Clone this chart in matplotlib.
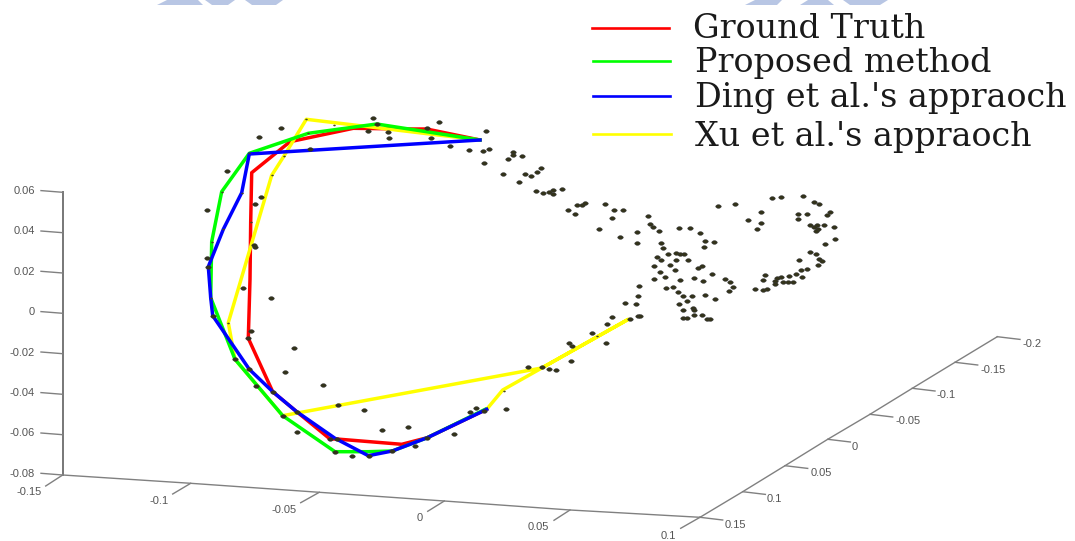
# plot.py - point cloud with fitted curves, redrawn from a flat 3D view.

import matplotlib
matplotlib.use("Agg")
import matplotlib.pyplot as plt
from matplotlib.markers import MarkerStyle
from matplotlib.transforms import Affine2D

# scattered points
points_x = [
    373, 438.7, 486, 259.3, 281, 376.7, 367.7, 387.7, 389.3, 426.7, 431.3, 449.7, 468.7, 483.3, 489, 483.7,
    310, 227.3, 261, 255, 207.3, 207.3, 208.3, 255, 254,
    242.7, 271, 212.7, 250.7, 248.3, 294, 235, 249.3, 285, 256, 323, 272.7, 337.7, 364, 282.7, 296.7, 296.7,
    382.3, 408, 330, 336.7, 454.3, 427.3, 470, 476, 484, 506.3, 415, 392.3, 335.3, 352, 368.7,
    528.3, 541.7, 549.3, 556.3, 571, 569.3, 572, 591.7, 606.3, 607.3, 612, 630, 638.3,
    513.3, 513.3, 521.7, 508, 503.3, 525.3, 531, 537, 540.7, 519, 536.3, 542.7, 549.3, 552.7, 552.7, 562,
    568, 575.3, 577.3, 581.7, 585, 604.7, 613.7, 622.7, 612, 599, 620, 636.7, 636.7, 648.3, 650, 653.3, 659.3,
    679.3, 690.3, 700, 705, 714, 704, 661, 663, 668.3, 675.7, 680, 684.3, 656.7, 661, 675.7, 687.7, 653.7,
    670, 675.3, 698.3, 701.7, 660, 712, 665, 654.3, 680, 693.7, 702.7, 725, 730, 639.3, 665.7, 672.7, 677.7,
    733.3, 729, 638.3, 682.7, 686.7, 692, 705, 715, 624.7, 636.3, 678.7, 692.7, 694, 682.7, 640.3,
    682.7, 686.7, 694, 702, 706.7, 710,
    718.3, 735, 760.7, 747.7, 760.7, 756.7, 772.3, 781.3, 803, 814, 819, 797.7, 807, 797.7, 830, 826.7,
    810.3, 816.7, 824.3, 834.3, 814.3, 817.7, 815.7, 835, 825, 809.7, 816, 799.3, 819.3, 821.7, 818.3,
    806.7, 801, 796.3, 802.3, 788.7, 781.3, 777.3, 765, 763.3, 775.3, 775.3, 783.3, 792.7, 788, 755, 763.3, 767.3,
]
points_y = [
    118.3, 121.7, 131, 137.3, 128.3, 124, 130.7, 132.3, 137.7, 127.7, 138.3, 145.7, 149.7, 151, 149, 163,
    148.7, 171.3, 196.7, 204.3, 209.7, 258, 266.7, 246.7, 245,
    287.7, 298, 315.7, 331.3, 338.3, 348.3, 359.3, 369.3, 372, 386.3, 385.3, 392.3, 405.3, 410, 415.7, 411.7, 432,
    429.7, 427, 439, 439, 433.7, 437.7, 412.3, 408, 411.3, 408.7, 446.3, 450.7, 451.7, 455.7, 455.7,
    367.3, 366.7, 369, 370.3, 360.7, 343.3, 345.7, 333.3, 343.3, 324, 317.3, 319.3, 315.7,
    151.7, 155, 155.7, 159.3, 173.7, 174.3, 176.3, 172.3, 168, 182, 191, 193, 191.7, 189.7, 193.7, 189,
    210, 213.7, 205, 205.3, 203, 204, 210, 210, 217.7, 229, 237.3, 231.7, 243, 215.7, 224, 227, 231.3,
    228.3, 228.3, 233.3, 241.3, 242.3, 247, 243, 247.7, 254.3, 253, 254.3, 253.7, 256.7, 260, 260, 260, 265.7,
    265.3, 270, 268, 266.3, 272, 274, 277.3, 279.3, 280, 278.3, 281, 279, 282.3, 286, 288.3, 287, 291.7,
    287, 290.7, 295.7, 296.3, 300.7, 296.3, 295.3, 298.7, 302.7, 304, 304, 307.7, 310, 310.3, 315.7,
    317.7, 317.7, 315.3, 315, 319, 319,
    206, 204, 212.3, 219.7, 223, 229, 197.7, 197, 196.3, 202, 204, 214, 214, 219, 212.3, 215,
    224.7, 224.7, 225, 227.3, 227.3, 229, 231, 238.7, 244.3, 251.7, 254.3, 259.7, 259.3, 261.3, 265,
    269, 270.3, 273.7, 277.3, 275.7, 276.7, 278, 275.3, 279.7, 280.7, 283.7, 281.7, 282.3, 282.3, 289, 290, 289,
]

# faint little dots at the curve vertices
vertex_x = [306.3, 334.3, 284, 271.7, 308.3, 249.3, 221.7, 211.7, 241.7, 223.3, 250.7, 210.7, 228.3, 504, 596.7]
vertex_y = [119.3, 125.3, 156, 175.3, 133.3, 153.3, 191.7, 241.7, 192.7, 229.3, 221.7, 297.7, 322.7, 390.5, 336]

# fitted curves
truth_x = [480, 426.7, 406.7, 353.3, 290, 251.7, 250.7, 250, 248.3, 272.7, 296.7, 330, 336.7, 401.7, 427.3, 486.7]
truth_y = [140, 129, 129, 128.3, 141.7, 172.7, 221.7, 279.3, 338.3, 391.7, 411.7, 439, 439, 444.3, 437.7, 409.3]
proposed_x = [480, 376.7, 308.3, 249.3, 221.7, 211.7, 210.7, 235, 282.7, 335, 368.3, 392.3, 427.3, 485.3]
proposed_y = [140, 124, 133.3, 153.3, 191.7, 241.7, 297.7, 359.3, 415.7, 451.7, 451.7, 451, 437.7, 409.3]
ding_x = [480, 249.3, 241.7, 223.3, 208.3, 210.7, 212.7, 249.3, 272.7, 296.7, 335, 368.3, 392.3, 427.3, 486.7]
ding_y = [140, 154, 192.7, 229.3, 266.7, 297.7, 315.7, 369.3, 391.7, 411.7, 438.3, 455.7, 451, 437.7, 409.3]
xu_x = [480, 306.3, 284, 271.7, 228.3, 235, 282.7, 541.7, 628.3, 502.7, 486.7]
xu_y = [140, 119.3, 156, 175.3, 322.7, 359.3, 415.7, 368, 319.3, 390, 409.3]

legend_labels = ["Ground Truth", "Proposed method", "Ding et al.'s appraoch", "Xu et al.'s appraoch"]
legend_line_x0 = [592, 593, 593, 593]
legend_line_x1 = [669, 670, 670, 671]
legend_line_y = [28.3, 61.3, 96, 134.3]
legend_text_x = [692.7, 695, 695, 695]
legend_text_y = [38, 72, 107, 145.7]

# z axis
z_labels = ["0.06", "0.04", "0.02", "0", "-0.02", "-0.04", "-0.06", "-0.08"]
z_tick_y = [192.3, 232.7, 273, 313.3, 353.7, 394.3, 434.7, 475]
z_label_y = [190.7, 231.3, 271.7, 312.3, 352.7, 393, 433.3, 474]

# x axis, running along the front edge
x_labels = ["-0.15", "-0.1", "-0.05", "0", "0.05", "0.1"]
x_tick_x = [62.7, 190.7, 319.3, 444.3, 570, 700]
x_tick_y = [475, 483.3, 492.3, 501, 510, 517.3]
x_end_x = [45.7, 172.7, 300.7, 427.7, 554, 680.7]
x_end_y = [486, 494, 502.7, 511.3, 520.3, 528.3]
x_label_x = [29.3, 159, 284, 420, 538.7, 668.3]
x_label_y = [492.3, 501, 510.3, 518.3, 527, 536]

# y axis, running into the picture
y_labels = ["0.15", "0.1", "0.05", "0", "-0.05", "-0.1", "-0.15", "-0.2"]
y_tick_x = [700, 742.7, 785, 827.7, 870, 912.3, 955, 997.3]
y_tick_y = [517.3, 491.7, 465.7, 439.3, 414.3, 388.3, 362.3, 336.7]
y_end_x = [722.7, 765.4, 807.7, 850.4, 892.7, 935, 977.7, 1020]
y_end_y = [520, 494.4, 468.4, 442, 417, 391, 365, 339.4]
y_label_x = [735.3, 774.7, 821, 855, 907.7, 946, 992.7, 1032.3]
y_label_y = [524.7, 499, 473, 447, 421.3, 395.3, 369.7, 344]

# scanned watermark cut off at the top edge
mark_shapes_x = [[157, 167, 198, 203], [205, 212, 228, 235], [245, 252, 276, 283],
                 [745, 755, 782, 777], [800, 808, 828, 834], [843, 850, 880, 888]]
mark_shapes_y = [[5, 0, 0, 5], [0, 5, 5, 0], [0, 5, 5, 0],
                 [5, 0, 0, 5], [5, 0, 0, 5], [0, 5, 5, 0]]

AXIS_COLOR = "#808080"
TICK_TEXT = "#555555"


def main():
    plt.rcParams["font.family"] = ["Liberation Sans", "DejaVu Sans"]

    fig = plt.figure(figsize=(10.75, 5.41), dpi=100)
    ax = fig.add_axes([0, 0, 1, 1])
    ax.set_xlim(0, 1075)
    ax.set_ylim(541, 0)
    ax.axis("off")

    for sx, sy in zip(mark_shapes_x, mark_shapes_y):
        ax.fill(sx, sy, color="#b8c6e4", lw=0)

    # axis lines and ticks
    ax.plot([x_tick_x[0], x_tick_x[0]], [z_tick_y[0], z_tick_y[-1]], color="#777777", lw=1.4)
    ax.plot(x_tick_x, x_tick_y, color=AXIS_COLOR, lw=1)
    ax.plot(y_tick_x, y_tick_y, color=AXIS_COLOR, lw=1)

    for y, ly, lab in zip(z_tick_y, z_label_y, z_labels):
        ax.plot([x_tick_x[0], 41], [y, y - 1.7], color=AXIS_COLOR, lw=1)
        ax.text(35, ly, lab, ha="right", va="center", fontsize=8, color=TICK_TEXT)
    for i, lab in enumerate(x_labels):
        ax.plot([x_tick_x[i], x_end_x[i]], [x_tick_y[i], x_end_y[i]], color=AXIS_COLOR, lw=1)
        ax.text(x_label_x[i], x_label_y[i], lab, ha="center", va="center", fontsize=8, color=TICK_TEXT)
    for i, lab in enumerate(y_labels):
        ax.plot([y_tick_x[i], y_end_x[i]], [y_tick_y[i], y_end_y[i]], color=AXIS_COLOR, lw=1)
        ax.text(y_label_x[i], y_label_y[i], lab, ha="center", va="center", fontsize=8, color=TICK_TEXT)

    # curves, overlap order as in the picture
    ax.plot(truth_x, truth_y, color="#ff0000", lw=2.5, solid_joinstyle="round", zorder=3)
    ax.plot(xu_x, xu_y, color="#ffff00", lw=2.5, solid_joinstyle="round", zorder=4)
    ax.plot(proposed_x, proposed_y, color="#00ff00", lw=2.5, solid_joinstyle="round", zorder=5)
    ax.plot(ding_x, ding_y, color="#0000ff", lw=2.5, solid_joinstyle="round", zorder=6)

    # the picture was stretched sideways, so the dots are wide ellipses
    dot = MarkerStyle("o", transform=Affine2D().scale(1.3, 0.85))
    ax.plot(points_x, points_y, ls="none", marker=dot, ms=3.0, mfc="#33331a", mec="#333333", mew=0.4, zorder=7)
    ax.plot(vertex_x, vertex_y, ls="none", marker=dot, ms=1.4, mfc="#444422", mew=0, zorder=7)

    # legend is laid out by hand, the rows are not evenly spaced
    line_colors = ["#ff0000", "#00ff00", "#0000ff", "#ffff00"]
    for i, lab in enumerate(legend_labels):
        ax.plot([legend_line_x0[i], legend_line_x1[i]], [legend_line_y[i], legend_line_y[i]],
                color=line_colors[i], lw=1.9)
        ax.text(legend_text_x[i], legend_text_y[i], lab, ha="left", va="baseline",
                family=["DejaVu Serif"], fontsize=24, color="#1a1a1a")

    fig.savefig("out.png", dpi=100, facecolor="white")
    plt.close(fig)


if __name__ == "__main__":
    main()
